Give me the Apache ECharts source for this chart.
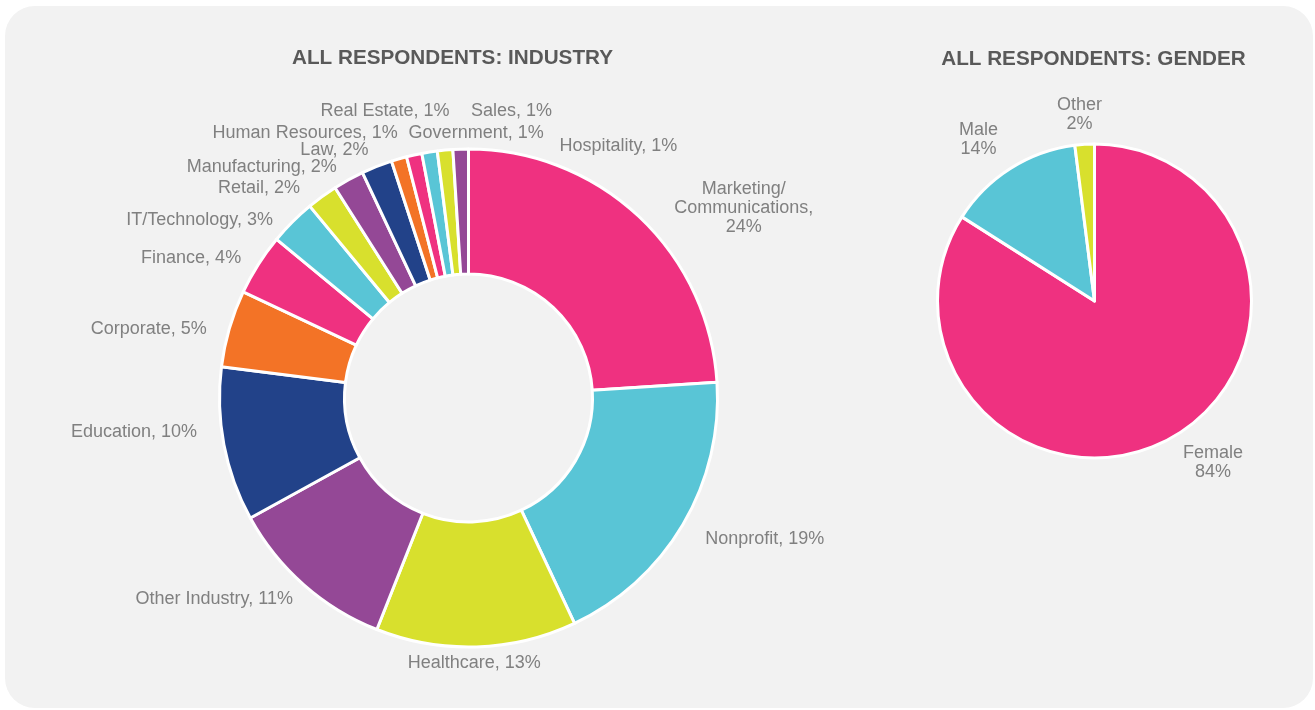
<!DOCTYPE html>
<html>
<head>
<meta charset="utf-8">
<title>All Respondents: Industry and Gender</title>
<script src="https://cdn.jsdelivr.net/npm/echarts@6/dist/echarts.min.js"></script>
<style>
  html, body { margin: 0; padding: 0; background: #ffffff; }
  #chart { width: 1315px; height: 710px; }
</style>
</head>
<body>
<div id="chart"></div>
<script>
// Survey breakdown: industry (donut) and gender (pie), values in percent
const industryNames = [
  'Marketing/Communications', 'Nonprofit', 'Healthcare', 'Other Industry',
  'Education', 'Corporate', 'Finance', 'IT/Technology', 'Retail',
  'Manufacturing', 'Law', 'Human Resources', 'Real Estate', 'Government',
  'Sales', 'Hospitality'
];
const industryValues = [24, 19, 13, 11, 10, 5, 4, 3, 2, 2, 2, 1, 1, 1, 1, 1];

const genderNames = ['Female', 'Male', 'Other'];
const genderValues = [84, 14, 2];

// hand-placed label offsets (px) from the default outside position
const industryLabelDx = [8, -7, -88, 16, 4, 8, 12, 8, 4, 13, 15, 21, 57, 135, 127, 236];
const industryLabelDy = [0, 8, 4, 5, -15, 4, 0, 7, 1, -2, -5, -14, -32, -7, -27, 9];
const genderLabelDx = [-7, 8, 33];
const genderLabelDy = [15, -20, -20];

const palette = ['#EF3180', '#59C5D6', '#D8E02D', '#944896', '#224289', '#F37326'];
const labelColor = '#808080';
const fontFamily = '"Liberation Sans", Arial, Helvetica, sans-serif';

function industryLabel(p) {
  // the long compound name wraps onto three lines
  if (p.name.length > 20 && p.name.indexOf('/') > 0) {
    return p.name.replace('/', '/\n') + ',\n' + p.value + '%';
  }
  return p.name + ', ' + p.value + '%';
}

function toData(names, values) {
  return names.map((n, i) => ({
    name: n,
    value: values[i],
    itemStyle: { color: palette[i % palette.length] }
  }));
}

// move each label by its offset and centre its lines inside the box
function shiftLabels(dxs, dys) {
  return function (params) {
    const r = params.labelRect;
    const i = params.dataIndex;
    return {
      x: r.x + r.width / 2 + (dxs[i] || 0),
      y: r.y + r.height / 2 + (dys[i] || 0),
      align: 'center',
      verticalAlign: 'middle'
    };
  };
}

const chart = echarts.init(document.getElementById('chart'), null, { renderer: 'canvas' });

chart.setOption({
  animation: false,
  graphic: [
    {
      type: 'rect', silent: true, z: -10,
      shape: { x: 5, y: 6, width: 1308, height: 702, r: 30 },
      style: { fill: '#F2F2F2' }
    },
    {
      type: 'text', x: 452.5, y: 58,
      style: {
        text: 'ALL RESPONDENTS: INDUSTRY', fill: '#595959',
        font: 'bold 20.7px ' + fontFamily, textAlign: 'center', textVerticalAlign: 'middle'
      }
    },
    {
      type: 'text', x: 1093.5, y: 59,
      style: {
        text: 'ALL RESPONDENTS: GENDER', fill: '#595959',
        font: 'bold 20.7px ' + fontFamily, textAlign: 'center', textVerticalAlign: 'middle'
      }
    }
  ],
  series: [
    {
      name: 'Industry',
      type: 'pie',
      center: [468.5, 398],
      radius: [124, 249],
      startAngle: 90,
      clockwise: true,
      avoidLabelOverlap: false,
      data: toData(industryNames, industryValues),
      itemStyle: { borderColor: '#ffffff', borderWidth: 3 },
      label: {
        show: true,
        position: 'outside',
        formatter: industryLabel,
        color: labelColor,
        fontSize: 18,
        lineHeight: 19,
        fontFamily: fontFamily
      },
      labelLine: { show: false, length: 12, length2: 14 },
      labelLayout: shiftLabels(industryLabelDx, industryLabelDy)
    },
    {
      name: 'Gender',
      type: 'pie',
      center: [1094.5, 301],
      radius: [0, 157],
      startAngle: 90,
      clockwise: true,
      avoidLabelOverlap: false,
      data: toData(genderNames, genderValues),
      itemStyle: { borderColor: '#ffffff', borderWidth: 3 },
      label: {
        show: true,
        position: 'outside',
        formatter: p => p.name + '\n' + p.value + '%',
        color: labelColor,
        fontSize: 18,
        lineHeight: 19,
        fontFamily: fontFamily
      },
      labelLine: { show: false, length: 10, length2: 10 },
      labelLayout: shiftLabels(genderLabelDx, genderLabelDy)
    }
  ]
});
</script>
</body>
</html>
